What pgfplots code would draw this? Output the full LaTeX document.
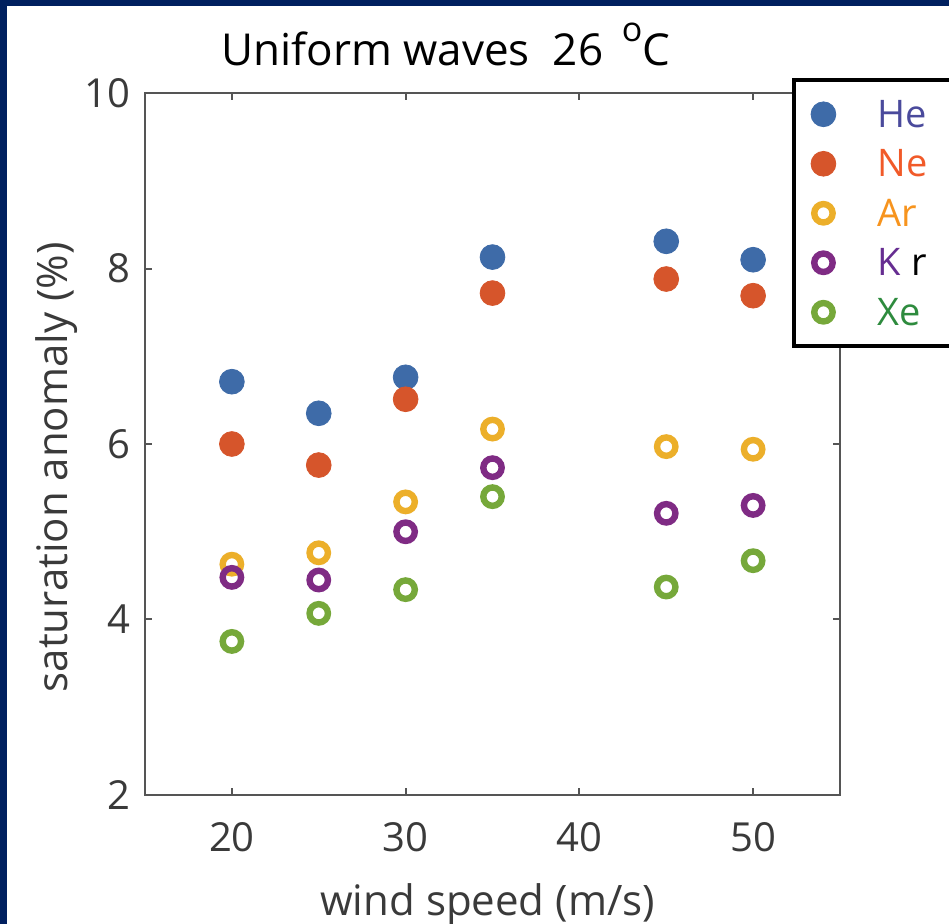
\documentclass[border=0pt]{standalone}
\usepackage{fontspec}
\setmainfont{Open Sans}
\usepackage{pgfplots}
\pgfplotsset{compat=1.18}

\definecolor{frame}{HTML}{00205F}
\definecolor{axisgray}{HTML}{555555}
\definecolor{labelgray}{HTML}{3A3A3A}
\definecolor{cHe}{HTML}{3E6BA8}
\definecolor{cNe}{HTML}{D6552B}
\definecolor{cAr}{HTML}{ECAF2A}
\definecolor{cKr}{HTML}{7F2B84}
\definecolor{cXe}{HTML}{76A83A}
\definecolor{tHe}{HTML}{4A4A9C}
\definecolor{tNe}{HTML}{F15A29}
\definecolor{tAr}{HTML}{F7941E}
\definecolor{tKr}{HTML}{662D91}
\definecolor{tXe}{HTML}{2E8B3E}

\begin{document}
\begin{tikzpicture}[x=0.5pt,y=0.5pt]
\useasboundingbox (0,0) rectangle (949,924);
\clip (0,0) rectangle (949,924);
\fill[frame] (0,0) rectangle (949,924);
\fill[white] (7,0) rectangle (949,918);
\begin{axis}[
	at={(72.5pt,64.5pt)}, anchor=south west,
	scale only axis, width=347.5pt, height=351pt,
	xmin=15, xmax=55, ymin=2, ymax=10,
	xtick={20,30,40,50}, ytick={2,4,6,8,10},
	axis line style={draw=axisgray, line width=1pt},
	tick style={draw=axisgray, line width=1pt},
	major tick length=3.5pt, tick align=inside,
	ticklabel style={font=\fontsize{20}{24}\selectfont, text=labelgray},
	/pgf/number format/assume math mode=true,
	xticklabel style={yshift=-10pt},
	yticklabel style={xshift=-4pt},
	xlabel={wind speed (m/s)},
	xlabel style={at={(axis description cs:0.493,-0.172)}, anchor=base,
		font=\fontsize{21}{25}\selectfont, text=labelgray},
	ylabel={saturation anomaly (\%)},
	ylabel style={at={(axis description cs:-0.112,0.467)}, anchor=base, rotate=0,
		font=\fontsize{21}{25}\selectfont, text=labelgray},
	title={Uniform waves\ \ 26\ \,\raisebox{1.05ex}{\fontsize{17}{17}\selectfont o}C},
	title style={at={(axis description cs:0.433,1.0214)}, anchor=base,
		font=\fontsize{22}{26}\selectfont, text=black},
	legend style={
		at={(axis description cs:0.931,1.021)}, anchor=north west,
		draw=black, line width=2pt, fill=white,
		font=\fontsize{19}{22}\selectfont,
		inner xsep=8.5pt, inner ysep=10.5pt, row sep=11.75pt,
		nodes={inner sep=0pt, text height=13pt, text depth=0pt},
		/tikz/every odd column/.append style={column sep=21pt},
	},
	legend cell align=left,
]
\addplot[only marks, mark=*, mark size=6.2pt, line width=0.4pt,
	mark options={draw=cHe, fill=cHe}] coordinates {
	(20,6.71) (25,6.35) (30,6.76) (35,8.13) (45,8.31) (50,8.10)
};
\addplot[only marks, mark=*, mark size=6.2pt, line width=0.4pt,
	mark options={draw=cNe, fill=cNe}] coordinates {
	(20,6.00) (25,5.76) (30,6.51) (35,7.72) (45,7.88) (50,7.69)
};
\addplot[only marks, mark=o, mark size=4.6pt, line width=3.2pt,
	mark options={draw=cAr}] coordinates {
	(20,4.63) (25,4.76) (30,5.34) (35,6.17) (45,5.97) (50,5.94)
};
\addplot[only marks, mark=o, mark size=4.6pt, line width=3.2pt,
	mark options={draw=cKr}] coordinates {
	(20,4.48) (25,4.45) (30,5.00) (35,5.73) (45,5.21) (50,5.30)
};
\addplot[only marks, mark=o, mark size=4.6pt, line width=3.2pt,
	mark options={draw=cXe}] coordinates {
	(20,3.75) (25,4.07) (30,4.34) (35,5.40) (45,4.37) (50,4.67)
};
\legend{\textcolor{tHe}{He}\hspace*{30pt},
	\textcolor{tNe}{Ne},
	\textcolor{tAr}{Ar},
	\textcolor{tKr}{K}\ \textcolor{black}{r},
	\textcolor{tXe}{Xe}}
\end{axis}
\end{tikzpicture}
\end{document}
